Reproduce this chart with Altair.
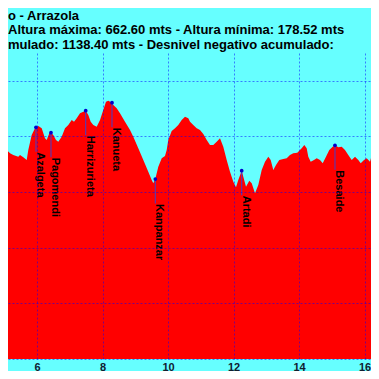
import altair as alt
import pandas as pd

# Profile (km, elevation m)
km = [4.870, 4.971, 5.023, 5.075, 5.176, 5.276, 5.429, 5.481, 5.582, 5.686,
      5.734, 5.838, 5.939, 5.969, 6.040, 6.144, 6.244, 6.296, 6.376, 6.427,
      6.498, 6.580, 6.650, 6.754, 6.855, 6.956, 7.060, 7.130, 7.212, 7.313,
      7.414, 7.487, 7.566, 7.640, 7.719, 7.823, 7.924, 8.024, 8.107, 8.177,
      8.290, 8.330, 8.434, 8.534, 8.687, 8.840, 8.940, 9.093, 9.246, 9.398,
      9.502, 9.551, 9.612, 9.704, 9.808, 9.908, 9.960, 10.009, 10.113, 10.214,
      10.314, 10.418, 10.519, 10.620, 10.672, 10.772, 10.876, 10.977, 11.078, 11.182,
      11.282, 11.383, 11.487, 11.588, 11.688, 11.792, 11.893, 11.994, 12.076, 12.146,
      12.250, 12.299, 12.382, 12.482, 12.556, 12.656, 12.757, 12.861, 12.962, 13.063,
      13.136, 13.215, 13.298, 13.398, 13.521, 13.624, 13.725, 13.826, 13.948, 14.082,
      14.162, 14.235, 14.284, 14.357, 14.458, 14.540, 14.641, 14.724, 14.824, 14.925,
      15.029, 15.099, 15.200, 15.304, 15.404, 15.505, 15.609, 15.710, 15.811, 15.884,
      15.985, 16.067, 16.168, 16.250, 16.320, 16.443]
elev = [537.7, 540.6, 534.6, 525.7, 519.7, 516.7, 513.6, 516.7, 512.5, 507.7,
        525.7, 552.6, 564.7, 566.5, 568.8, 564.7, 546.7, 543.6, 555.7, 556.8,
        552.6, 543.6, 540.6, 549.6, 564.7, 570.6, 579.6, 576.5, 582.6, 591.6,
        594.5, 596.3, 588.6, 576.5, 570.6, 567.5, 579.6, 597.5, 612.5, 614.3,
        610.7, 606.5, 600.6, 591.6, 576.5, 561.6, 549.6, 528.7, 507.7, 486.6,
        471.7, 465.8, 473.5, 495.6, 510.7, 514.9, 525.7, 543.6, 559.8, 564.7,
        570.6, 579.6, 585.5, 582.6, 576.5, 570.6, 564.7, 561.6, 554.4, 543.6,
        534.6, 534.6, 540.6, 546.7, 531.6, 507.7, 486.6, 468.7, 458.6, 471.7,
        488.4, 477.7, 459.7, 470.5, 465.8, 447.8, 462.7, 489.7, 504.6, 513.6,
        507.7, 489.7, 498.7, 507.7, 509.5, 510.7, 516.7, 519.7, 520.8, 528.7,
        534.6, 528.7, 513.6, 504.6, 507.7, 510.7, 507.7, 501.7, 513.6, 525.7,
        531.6, 534.1, 530.5, 531.6, 525.7, 516.7, 507.7, 513.6, 507.7, 501.7,
        507.7, 510.7, 504.6, 522.6, 528.7, 525.7]

wp_names = ["Azalgeta", "Pagomendi", "Harrizurieta", "Kanueta", "Kanpanzar", "Artadi", "Besaide"]
wp_km = [5.969, 6.427, 7.487, 8.290, 9.612, 12.250, 15.099]
wp_elev = [566.5, 556.8, 596.3, 610.7, 473.5, 488.4, 534.1]

title_lines = [
    "o - Arrazola",
    "Altura máxima: 662.60 mts - Altura mínima: 178.52 mts",
    "mulado: 1138.40 mts - Desnivel negativo acumulado:",
]
x_ticks = [6, 8, 10, 12, 14, 16]
y_grid = [150, 200, 250, 300, 350, 400, 450, 500, 550, 600, 650, 700]

profile = pd.DataFrame({"km": km, "elev": elev})
wps = pd.DataFrame({"name": wp_names, "km": wp_km, "elev": wp_elev})

FONT = "Liberation Sans"
xscale = alt.Scale(domain=[5.1145, 16.1984], nice=False, zero=False)
yscale = alt.Scale(domain=[150, 700], nice=False, zero=False)

area = alt.Chart(profile).mark_area(color="#ff0000", clip=True).encode(
    x=alt.X("km:Q", scale=xscale, title=None,
            axis=alt.Axis(values=x_ticks, grid=True, ticks=False, tickSize=0, domain=False,
                          labelFont=FONT, labelFontWeight="bold", labelFontSize=11,
                          labelColor="#102030", labelPadding=2,
                          gridColor="#0000ff", gridOpacity=0.5, gridDash=[2, 2],
                          gridWidth=1, zindex=1)),
    y=alt.Y("elev:Q", scale=yscale, title=None,
            axis=alt.Axis(values=y_grid, grid=True, labels=False, ticks=False, domain=False,
                          gridColor="#0000ff", gridOpacity=0.5, gridDash=[2, 2],
                          gridWidth=1, zindex=1)),
    y2=alt.datum(150),
)

rules = alt.Chart(wps).transform_calculate(base="datum.elev - 44").mark_rule(
    color="#4040cc", strokeWidth=1
).encode(
    x=alt.X("km:Q", scale=xscale, title=None),
    y=alt.Y("elev:Q", scale=yscale, title=None),
    y2="base:Q",
)

dots = alt.Chart(wps).mark_point(filled=True, color="#0000cc", size=14, opacity=1).encode(
    x=alt.X("km:Q", scale=xscale, title=None),
    y=alt.Y("elev:Q", scale=yscale, title=None),
)

labels = alt.Chart(wps).mark_text(
    angle=90, align="left", baseline="alphabetic", dx=25, dy=-1,
    font=FONT, fontWeight="bold", fontSize=11, color="#000000"
).encode(
    x=alt.X("km:Q", scale=xscale, title=None),
    y=alt.Y("elev:Q", scale=yscale, title=None),
    text="name:N",
)

title_layers = []
for line, ypos in zip(title_lines, [-33.2, -18.6, -4]):
    title_layers.append(
        alt.Chart(pd.DataFrame({"t": [line]})).mark_text(
            align="left", baseline="alphabetic", font=FONT, fontWeight="bold",
            fontSize=13, color="#000000"
        ).encode(x=alt.value(0), y=alt.value(ypos), text="t:N")
    )

chart = alt.layer(area, rules, dots, labels, *title_layers).properties(
    width=363, height=306,
    autosize=alt.AutoSizeParams(type="none"),
    padding={"left": 0, "top": 45, "right": 0, "bottom": 12},
    background="#66ffff",
).configure_view(strokeWidth=0, fill="#66ffff")

chart.save("out.html", embed_options={"renderer": "svg", "actions": False})
